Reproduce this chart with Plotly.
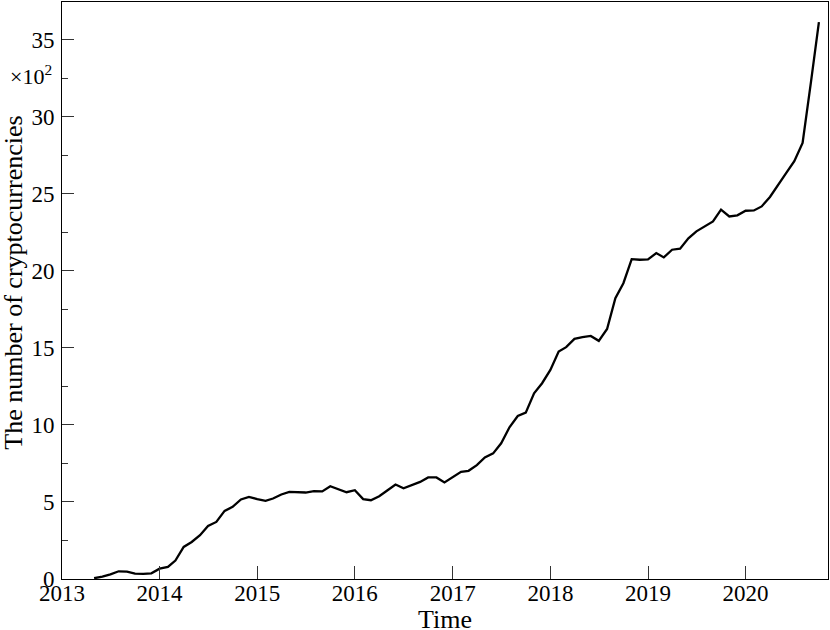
import pandas as pd
import plotly.graph_objects as go

# monthly count of cryptocurrencies (in hundreds), May 2013 - Oct 2020
counts = [0.05, 0.15, 0.30, 0.50, 0.48, 0.35, 0.33, 0.37,
          0.67, 0.78, 1.20, 2.08, 2.40, 2.84, 3.44, 3.70, 4.42, 4.68, 5.16, 5.33,
          5.18, 5.07, 5.22, 5.48, 5.65, 5.61, 5.61, 5.70, 5.68, 6.02, 5.83, 5.63,
          5.76, 5.18, 5.11, 5.37, 5.74, 6.13, 5.89, 6.11, 6.30, 6.59, 6.59, 6.26,
          6.63, 6.95, 7.02, 7.39, 7.89, 8.15, 8.80, 9.84, 10.57, 10.79, 12.05, 12.70,
          13.56, 14.75, 15.04, 15.58, 15.69, 15.77, 15.45, 16.22, 18.22, 19.19, 20.75, 20.71,
          20.73, 21.14, 20.86, 21.36, 21.43, 22.10, 22.55, 22.87, 23.20, 23.96, 23.52, 23.59,
          23.89, 23.91, 24.17, 24.78, 25.58, 26.34, 27.10, 28.29, 32.20, 36.13]
months = pd.date_range('2013-05-01', periods=len(counts), freq='MS')
year_ticks = [str(y) for y in range(2013, 2021)]
y_ticks = [0, 5, 10, 15, 20, 25, 30, 35]

font = 'Liberation Serif, Times New Roman, serif'

fig = go.Figure()
fig.add_trace(go.Scatter(x=months, y=counts, mode='lines',
                         line=dict(color='black', width=2.3), showlegend=False))

fig.update_xaxes(type='date', range=['2013-01-01', '2020-11-04'], automargin=False,
                 tickvals=[f'{y}-01-01' for y in year_ticks], ticktext=year_ticks,
                 ticks='inside', ticklen=13, tickwidth=1, tickcolor='#333',
                 ticklabelstandoff=-7,
                 showline=True, linecolor='black', linewidth=1, mirror=True,
                 showgrid=False, zeroline=False,
                 tickfont=dict(family=font, size=23, color='black'))
fig.update_yaxes(range=[0, 37.43], tickvals=y_ticks, automargin=False,
                 ticks='inside', ticklen=12, tickwidth=1, tickcolor='#333',
                 ticklabelstandoff=2,
                 minor=dict(dtick=2.5, ticks='inside', ticklen=6, tickcolor='#333', showgrid=False),
                 showline=True, linecolor='black', linewidth=1, mirror=True,
                 showgrid=False, zeroline=False,
                 tickfont=dict(family=font, size=23, color='black'))

# axis titles placed as annotations
fig.add_annotation(text='Time', xref='paper', yref='paper', x=0.5, y=-0.0705,
                   xanchor='center', yanchor='middle', showarrow=False,
                   font=dict(family=font, size=26, color='black'))
fig.add_annotation(text='The number of cryptocurrencies', xref='paper', yref='paper',
                   x=-0.0637, y=0.514, textangle=-90,
                   xanchor='center', yanchor='middle', showarrow=False,
                   font=dict(family=font, size=26, color='black'))
fig.add_annotation(text='×10<sup>2</sup>', xref='paper', yref='y', x=-0.011, y=32.7,
                   xanchor='right', yanchor='middle', showarrow=False,
                   font=dict(family=font, size=22, color='black'))

fig.update_layout(width=830, height=630, margin=dict(l=62, r=2, t=2, b=51),
                  plot_bgcolor='white', paper_bgcolor='white')
fig.write_html('out.html', config={'displayModeBar': False},
               post_script="document.body.style.margin='0';")
